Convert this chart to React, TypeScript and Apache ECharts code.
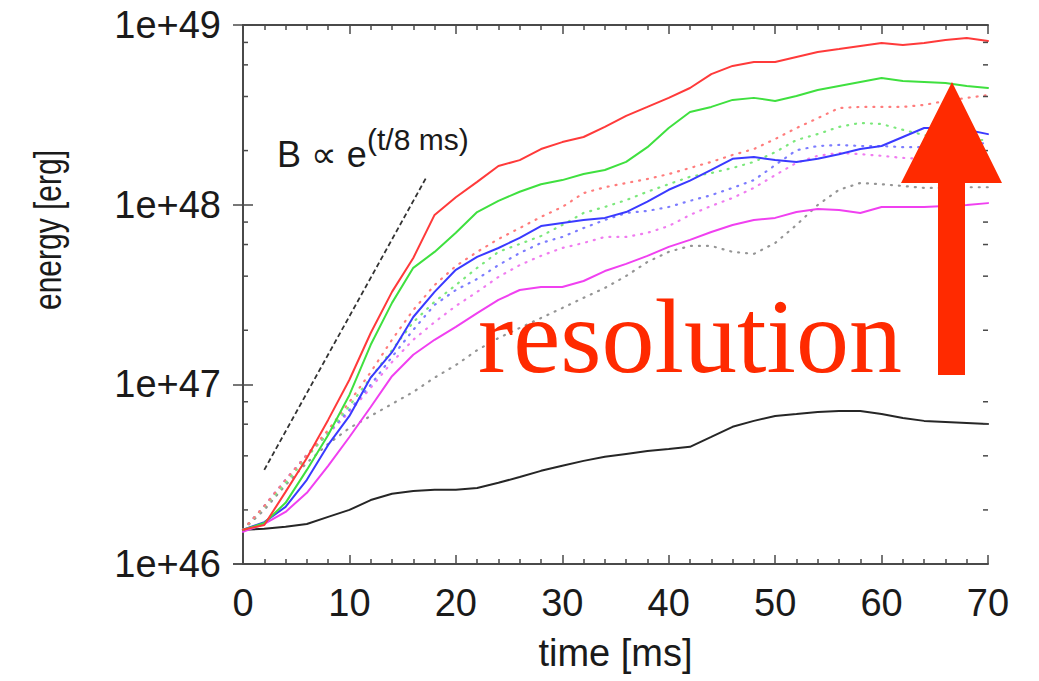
import React, { useEffect, useRef } from 'react';
import * as echarts from 'echarts';

// time axis samples [ms]
const TIME = [0, 2, 4, 6, 8, 10, 12, 14, 16, 18, 20, 22, 24, 26, 28, 30, 32, 34, 36, 38, 40, 42, 44, 46, 48, 50, 52, 54, 56, 58, 60, 62, 64, 66, 68, 70];

// solid curves [erg]
const RED_SOLID = [1.55e46, 1.65e46, 2.52e46, 3.89e46, 6.34e46, 1.06e47, 1.93e47, 3.27e47, 5.05e47, 8.77e47, 1.10e48, 1.34e48, 1.64e48, 1.77e48, 2.04e48, 2.23e48, 2.38e48, 2.71e48, 3.12e48, 3.50e48, 3.93e48, 4.46e48, 5.33e48, 5.92e48, 6.22e48, 6.22e48, 6.64e48, 7.08e48, 7.35e48, 7.64e48, 7.94e48, 7.74e48, 7.94e48, 8.26e48, 8.47e48, 8.15e48];
const GREEN_SOLID = [1.55e46, 1.69e46, 2.19e46, 3.34e46, 5.22e46, 8.73e46, 1.66e47, 2.84e47, 4.45e47, 5.46e47, 6.97e47, 9.10e47, 1.05e48, 1.18e48, 1.30e48, 1.37e48, 1.48e48, 1.56e48, 1.73e48, 2.09e48, 2.67e48, 3.28e48, 3.50e48, 3.83e48, 3.93e48, 3.78e48, 4.03e48, 4.35e48, 4.58e48, 4.82e48, 5.07e48, 4.88e48, 4.82e48, 4.75e48, 4.58e48, 4.46e48];
const BLUE_SOLID = [1.55e46, 1.71e46, 2.08e46, 2.94e46, 4.60e46, 6.67e46, 1.09e47, 1.51e47, 2.37e47, 3.27e47, 4.34e47, 5.12e47, 5.74e47, 6.53e47, 7.60e47, 7.91e47, 8.22e47, 8.44e47, 9.10e47, 1.04e48, 1.21e48, 1.36e48, 1.56e48, 1.80e48, 1.84e48, 1.77e48, 1.73e48, 1.80e48, 1.91e48, 2.04e48, 2.12e48, 2.38e48, 2.67e48, 2.67e48, 2.61e48, 2.47e48];
const MAGENTA_SOLID = [1.51e46, 1.67e46, 1.95e46, 2.49e46, 3.52e46, 5.09e46, 7.48e46, 1.11e47, 1.46e47, 1.77e47, 2.09e47, 2.49e47, 2.95e47, 3.35e47, 3.48e47, 3.48e47, 3.76e47, 4.27e47, 4.68e47, 5.19e47, 5.82e47, 6.37e47, 7.05e47, 7.71e47, 8.22e47, 8.44e47, 9.10e47, 9.47e47, 9.35e47, 8.99e47, 9.71e47, 9.71e47, 9.71e47, 9.84e47, 9.96e47, 1.02e48];
const BLACK_SOLID = [1.55e46, 1.57e46, 1.61e46, 1.67e46, 1.83e46, 2.00e46, 2.27e46, 2.46e46, 2.55e46, 2.59e46, 2.59e46, 2.65e46, 2.83e46, 3.05e46, 3.30e46, 3.52e46, 3.75e46, 3.95e46, 4.10e46, 4.26e46, 4.37e46, 4.49e46, 5.10e46, 5.80e46, 6.26e46, 6.67e46, 6.84e46, 7.02e46, 7.11e46, 7.11e46, 6.84e46, 6.50e46, 6.26e46, 6.18e46, 6.10e46, 6.02e46];

// dotted curves [erg]
const RED_DOTTED = [1.55e46, 2.10e46, 2.94e46, 4.05e46, 5.57e46, 7.98e46, 1.17e47, 1.77e47, 2.59e47, 3.57e47, 4.56e47, 5.46e47, 6.44e47, 7.41e47, 8.55e47, 9.71e47, 1.16e48, 1.25e48, 1.32e48, 1.39e48, 1.48e48, 1.60e48, 1.73e48, 1.89e48, 2.04e48, 2.32e48, 2.67e48, 3.03e48, 3.45e48, 3.50e48, 3.50e48, 3.50e48, 3.59e48, 3.78e48, 3.93e48, 4.07e48];
const GREEN_DOTTED = [1.55e46, 2.08e46, 2.82e46, 3.94e46, 5.37e46, 7.59e46, 1.09e47, 1.55e47, 2.22e47, 2.88e47, 3.57e47, 4.45e47, 5.46e47, 6.04e47, 6.69e47, 7.71e47, 8.99e47, 9.71e47, 1.06e48, 1.18e48, 1.30e48, 1.43e48, 1.50e48, 1.60e48, 1.73e48, 1.96e48, 2.29e48, 2.47e48, 2.71e48, 2.85e48, 2.81e48, 2.61e48, 2.44e48, 2.35e48, 2.29e48, 2.29e48];
const BLUE_DOTTED = [1.55e46, 2.10e46, 2.94e46, 4.05e46, 5.37e46, 7.21e46, 9.93e46, 1.42e47, 2.01e47, 2.77e47, 3.35e47, 3.86e47, 4.61e47, 5.38e47, 6.12e47, 6.61e47, 7.41e47, 8.22e47, 8.99e47, 9.23e47, 9.71e47, 1.05e48, 1.13e48, 1.24e48, 1.37e48, 1.66e48, 2.01e48, 2.12e48, 2.15e48, 2.12e48, 2.12e48, 2.09e48, 2.09e48, 2.12e48, 2.18e48, 2.20e48];
const MAGENTA_DOTTED = [1.55e46, 2.10e46, 2.94e46, 4.05e46, 5.30e46, 7.02e46, 9.55e46, 1.33e47, 1.77e47, 2.22e47, 2.73e47, 3.27e47, 3.96e47, 4.61e47, 5.19e47, 5.74e47, 6.12e47, 6.61e47, 6.61e47, 6.97e47, 7.60e47, 8.77e47, 9.84e47, 1.09e48, 1.24e48, 1.46e48, 1.71e48, 1.87e48, 1.94e48, 1.91e48, 1.87e48, 1.82e48, 1.80e48, 1.77e48, 1.77e48, 1.77e48];
const GRAY_DOTTED = [1.55e46, 2.00e46, 2.75e46, 3.66e46, 4.66e46, 5.71e46, 6.67e46, 7.78e46, 9.07e46, 1.09e47, 1.28e47, 1.55e47, 1.81e47, 2.06e47, 2.34e47, 2.66e47, 3.03e47, 3.44e47, 4.01e47, 4.80e47, 5.46e47, 5.89e47, 5.89e47, 5.46e47, 5.32e47, 6.12e47, 7.71e47, 9.96e47, 1.21e48, 1.32e48, 1.30e48, 1.27e48, 1.24e48, 1.24e48, 1.25e48, 1.25e48];

// reference growth line B ∝ e^(t/8 ms)
const REF_TIME = [2.0, 17.2];
const REF_ENERGY = [3.34e46, 1.41e48];

// axis ticks
const X_MIN = 0;
const X_MAX = 70;
const X_INTERVAL = 10;
const Y_MIN = 1e46;
const Y_MAX = 1e49;
const Y_MINOR_TICKS = [2e46, 4e46, 6e46, 8e46, 2e47, 4e47, 6e47, 8e47, 2e48, 4e48, 6e48, 8e48];

const SANS = "'Liberation Sans', Arial, Helvetica, 'DejaVu Sans', sans-serif";
const SERIF = "'Liberation Serif', 'Times New Roman', Times, serif";
const FRAME = '#4a4a4a';
const ARROW_RED = '#ff2a00';

const pair = (ys: number[], xs: number[] = TIME) => xs.map((t, i) => [t, ys[i]]);

function lineSeries(name: string, ys: number[], color: string, dotted: boolean, z: number) {
  return {
    name,
    type: 'line',
    data: pair(ys),
    showSymbol: false,
    symbol: 'none',
    smooth: false,
    z,
    lineStyle: dotted
      ? { color, width: 2.2, type: [1, 7], cap: 'round' }
      : { color, width: 2, type: 'solid', cap: 'round' },
  };
}

export default function App() {
  const ref = useRef<HTMLDivElement>(null);

  useEffect(() => {
    if (!ref.current) return;
    const chart = echarts.init(ref.current, null, { renderer: 'svg' });

    const xAxisBase = {
      type: 'value',
      min: X_MIN,
      max: X_MAX,
      interval: X_INTERVAL,
      splitLine: { show: false },
      axisLine: { show: true, onZero: false, lineStyle: { color: FRAME, width: 2 } },
      axisTick: { show: true, inside: true, length: 9, lineStyle: { color: FRAME, width: 1.5 } },
      minorTick: { show: true, splitNumber: 5, length: 5, lineStyle: { color: FRAME, width: 1.5 } },
    };
    const yAxisBase = {
      type: 'log',
      logBase: 10,
      min: Y_MIN,
      max: Y_MAX,
      splitLine: { show: false },
      axisLine: { show: true, lineStyle: { color: FRAME, width: 2 } },
      axisTick: { show: true, inside: true, length: 10, lineStyle: { color: FRAME, width: 1.5 } },
      minorTick: { show: false },
    };

    const option = {
      animation: false,
      backgroundColor: '#ffffff',
      grid: { left: 243, right: 51, top: 25, bottom: 117, containLabel: false },
      xAxis: [
        {
          ...xAxisBase,
          position: 'bottom',
          name: 'time [ms]',
          nameLocation: 'middle',
          nameGap: 70,
          nameTextStyle: { fontFamily: SANS, fontSize: 38, color: '#1a1a1a' },
          axisLabel: { show: true, margin: 20, fontFamily: SANS, fontSize: 38, color: '#1a1a1a' },
        },
        {
          ...xAxisBase,
          position: 'top',
          axisLabel: { show: false },
        },
      ],
      yAxis: [
        {
          ...yAxisBase,
          position: 'left',
          axisLabel: {
            show: true,
            margin: 22,
            fontFamily: SANS,
            fontSize: 38,
            color: '#1a1a1a',
            formatter: (v: number) => '1e+' + Math.round(Math.log10(v)),
          },
        },
        {
          ...yAxisBase,
          position: 'right',
          axisLabel: { show: false },
        },
      ],
      series: [
        lineSeries('gray dotted', GRAY_DOTTED, '#959595', true, 2),
        lineSeries('magenta dotted', MAGENTA_DOTTED, '#f07cf0', true, 2),
        lineSeries('blue dotted', BLUE_DOTTED, '#7c7cff', true, 2),
        lineSeries('green dotted', GREEN_DOTTED, '#7ce87c', true, 2),
        lineSeries('red dotted', RED_DOTTED, '#ff7c7c', true, 2),
        lineSeries('black', BLACK_SOLID, '#262626', false, 3),
        lineSeries('magenta', MAGENTA_SOLID, '#f040f0', false, 3),
        lineSeries('blue', BLUE_SOLID, '#3a3aff', false, 3),
        lineSeries('green', GREEN_SOLID, '#3fe03f', false, 3),
        lineSeries('red', RED_SOLID, '#ff3a3a', false, 3),
        {
          name: 'reference',
          type: 'line',
          data: pair(REF_ENERGY, REF_TIME),
          showSymbol: false,
          symbol: 'none',
          z: 3,
          lineStyle: { color: '#333333', width: 1.8, type: [5, 3] },
        },
        {
          name: 'minor y ticks',
          type: 'custom',
          coordinateSystem: 'cartesian2d',
          data: Y_MINOR_TICKS.map((v) => [X_MIN, v]),
          encode: { x: 0, y: 1 },
          clip: false,
          z: 5,
          silent: true,
          renderItem: (params: any, api: any) => {
            const pt = api.coord([X_MIN, api.value(1)]);
            const cs = params.coordSys;
            const st = { stroke: FRAME, lineWidth: 1.5 };
            return {
              type: 'group',
              children: [
                { type: 'line', shape: { x1: cs.x, y1: pt[1], x2: cs.x + 5, y2: pt[1] }, style: st },
                { type: 'line', shape: { x1: cs.x + cs.width, y1: pt[1], x2: cs.x + cs.width - 5, y2: pt[1] }, style: st },
              ],
            };
          },
        },
      ],
      graphic: [
        {
          type: 'text',
          x: 48,
          y: 230,
          rotation: Math.PI / 2,
          scaleX: 1,
          scaleY: 1.3,
          style: {
            text: 'energy [erg]',
            fontFamily: SANS,
            fontSize: 30,
            fill: '#1a1a1a',
            textAlign: 'center',
            textVerticalAlign: 'middle',
          },
        },
        {
          type: 'text',
          x: 277,
          y: 154,
          z: 10,
          style: {
            text: 'B \u221D e',
            fontFamily: SANS,
            fontSize: 36,
            fill: '#1a1a1a',
            textAlign: 'left',
            textVerticalAlign: 'middle',
          },
        },
        {
          type: 'text',
          x: 367,
          y: 139,
          z: 10,
          style: {
            text: '(t/8 ms)',
            fontFamily: SANS,
            fontSize: 30,
            fill: '#1a1a1a',
            textAlign: 'left',
            textVerticalAlign: 'middle',
          },
        },
        {
          type: 'text',
          x: 478,
          y: 336,
          z: 10,
          style: {
            text: 'resolution',
            fontFamily: SERIF,
            fontSize: 106,
            fill: ARROW_RED,
            textAlign: 'left',
            textVerticalAlign: 'middle',
          },
        },
        {
          type: 'polygon',
          z: 20,
          shape: {
            points: [
              [952, 82],
              [1002, 183],
              [965, 183],
              [965, 375],
              [938, 375],
              [938, 183],
              [901, 183],
            ],
          },
          style: { fill: ARROW_RED },
        },
      ],
    };

    chart.setOption(option as any);
    return () => chart.dispose();
  }, []);

  return (
    <div
      ref={ref}
      style={{ position: 'absolute', left: 0, top: 0, width: 1039, height: 681, background: '#ffffff' }}
    />
  );
}
